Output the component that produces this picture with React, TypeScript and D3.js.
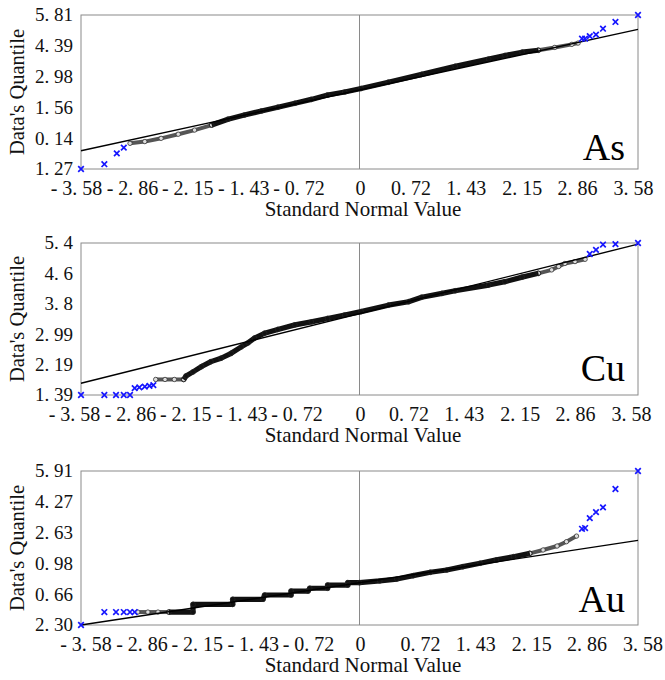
import * as d3 from "d3";

const W = 665;
const H = 680;
const LEFT = 81;
const RIGHT = 638;
const FONT = "Liberation Serif, Times New Roman, Times, DejaVu Serif, serif";
const BOX = "#8a8a8a";
const BLUE = "#1616ff";

// shared x axis
const xTicks = [-3.58, -2.86, -2.15, -1.43, -0.72, 0, 0.72, 1.43, 2.15, 2.86, 3.58];
const xTickLabels = ["- 3. 58", "- 2. 86", "- 2. 15", "- 1. 43", "- 0. 72", "0", "0. 72", "1. 43", "2. 15", "2. 86", "3. 58"];

type Pt = [number, number];

// As
const asYTicks = [-1.27, 0.14, 1.56, 2.98, 4.39, 5.81];
const asYLabels = ["1. 27", "0. 14", "1. 56", "2. 98", "4. 39", "5. 81"];
const asFit: Pt[] = [[-3.58, -0.43], [3.58, 5.15]];
const asSparseLow: Pt[] = [[-2.95, -0.09], [-2.76, -0.01], [-2.55, 0.14], [-2.33, 0.33], [-2.12, 0.52], [-1.9, 0.75]];
const asDense: Pt[] = [
  [-1.9, 0.75], [-1.69, 1.02], [-1.48, 1.21], [-1.26, 1.4], [-1.05, 1.57], [-0.83, 1.75],
  [-0.62, 1.93], [-0.41, 2.13], [-0.19, 2.27], [0.02, 2.43], [0.37, 2.72], [0.8, 3.08],
  [1.23, 3.45], [1.66, 3.78], [1.87, 3.95], [2.09, 4.1], [2.3, 4.19],
];
const asSparseHigh: Pt[] = [[2.3, 4.19], [2.51, 4.32], [2.73, 4.46], [2.81, 4.52]];
const asOutliers: Pt[] = [
  [-3.58, -1.27], [-3.28, -1.05], [-3.12, -0.55], [-3.03, -0.29],
  [2.86, 4.72], [2.9, 4.72], [2.96, 4.84], [3.04, 4.91], [3.13, 5.18], [3.29, 5.49], [3.58, 5.81],
];

// Cu
const cuYTicks = [1.39, 2.19, 2.99, 3.8, 4.6, 5.4];
const cuYLabels = ["1. 39", "2. 19", "2. 99", "3. 8", "4. 6", "5. 4"];
const cuFit: Pt[] = [[-3.58, 1.7], [3.58, 5.37]];
const cuSparseLow: Pt[] = [[-2.62, 1.8], [-2.5, 1.8], [-2.38, 1.8], [-2.26, 1.8]];
const cuDense: Pt[] = [
  [-2.26, 1.8], [-2.23, 1.89], [-2.14, 2.0], [-2.03, 2.14], [-1.91, 2.27], [-1.78, 2.36],
  [-1.65, 2.49], [-1.52, 2.66], [-1.43, 2.77], [-1.35, 2.89], [-1.22, 3.02], [-1.05, 3.12],
  [-0.83, 3.24], [-0.62, 3.32], [-0.41, 3.41], [-0.19, 3.5], [0.02, 3.59], [0.37, 3.76],
  [0.63, 3.85], [0.8, 3.97], [1.06, 4.07], [1.23, 4.14], [1.66, 4.29], [1.87, 4.38],
  [2.09, 4.5], [2.3, 4.6],
];
const cuSparseHigh: Pt[] = [[2.3, 4.6], [2.47, 4.69], [2.56, 4.78], [2.64, 4.86], [2.77, 4.91], [2.9, 4.97]];
const cuOutliers: Pt[] = [
  [-3.58, 1.39], [-3.28, 1.39], [-3.13, 1.39], [-3.03, 1.39], [-2.95, 1.39],
  [-2.89, 1.57], [-2.83, 1.59], [-2.76, 1.61], [-2.7, 1.63], [-2.65, 1.65],
  [2.96, 5.11], [3.04, 5.22], [3.13, 5.36], [3.29, 5.37], [3.58, 5.4],
];

// Au
const auYTicks = [-2.3, -0.66, 0.98, 2.63, 4.27, 5.91];
const auYLabels = ["2. 30", "0. 66", "0. 98", "2. 63", "4. 27", "5. 91"];
const auFit: Pt[] = [[-3.58, -2.3], [3.58, 2.21]];
const auSparseLow: Pt[] = [[-2.85, -1.61], [-2.72, -1.61], [-2.59, -1.61], [-2.45, -1.61]];
const auDense: Pt[] = [
  [-2.45, -1.61], [-2.14, -1.61], [-2.14, -1.2], [-1.63, -1.2], [-1.63, -0.93], [-1.24, -0.93],
  [-1.22, -0.7], [-0.88, -0.7], [-0.88, -0.49], [-0.66, -0.49], [-0.64, -0.34], [-0.41, -0.34],
  [-0.41, -0.17], [-0.15, -0.17], [-0.15, -0.04], [0.0, -0.04], [0.26, 0.05], [0.48, 0.15],
  [0.69, 0.33], [0.91, 0.51], [1.12, 0.63], [1.33, 0.81], [1.55, 0.99], [1.76, 1.17],
  [1.98, 1.34], [2.19, 1.52],
];
const auSparseHigh: Pt[] = [[2.19, 1.52], [2.36, 1.7], [2.54, 1.91], [2.66, 2.14], [2.79, 2.44]];
const auOutliers: Pt[] = [
  [-3.58, -2.3], [-3.28, -1.61], [-3.13, -1.61], [-3.03, -1.61], [-2.95, -1.61], [-2.89, -1.61],
  [2.86, 2.83], [2.9, 2.87], [2.96, 3.4], [3.04, 3.72], [3.13, 3.97], [3.29, 4.95], [3.58, 5.91],
];

interface PanelSpec {
  name: string;
  top: number;
  height: number;
  yTicks: number[];
  yLabels: string[];
  fit: Pt[];
  sparse: Pt[][];
  dense: Pt[];
  outliers: Pt[];
  labelDx: number;
  nameY: number;
}

const PANELS: PanelSpec[] = [
  { name: "As", top: 15, height: 154, yTicks: asYTicks, yLabels: asYLabels, fit: asFit,
    sparse: [asSparseLow, asSparseHigh], dense: asDense, outliers: asOutliers, labelDx: -4.5, nameY: 145 },
  { name: "Cu", top: 243, height: 152, yTicks: cuYTicks, yLabels: cuYLabels, fit: cuFit,
    sparse: [cuSparseLow, cuSparseHigh], dense: cuDense, outliers: cuOutliers, labelDx: -6.5, nameY: 138 },
  { name: "Au", top: 471, height: 154, yTicks: auYTicks, yLabels: auYLabels, fit: auFit,
    sparse: [auSparseLow, auSparseHigh], dense: auDense, outliers: auOutliers, labelDx: 5, nameY: 141 },
];

const xScale = d3.scaleLinear().domain([-3.58, 3.58]).range([LEFT, RIGHT]);
const cross = d3.symbol().type(d3.symbolTimes).size(22)() ?? "";
const txt = { fontFamily: FONT };

function Panel({ p }: { p: PanelSpec }) {
  const bottom = p.top + p.height;
  const y = d3.scaleLinear()
    .domain([p.yTicks[0], p.yTicks[p.yTicks.length - 1]])
    .range([bottom, p.top]);
  const line = d3.line<Pt>().x(d => xScale(d[0])).y(d => y(d[1]));
  const midY = p.top + p.height / 2;

  return (
    <g>
      <rect x={LEFT} y={p.top} width={RIGHT - LEFT} height={p.height} fill="none" stroke={BOX} strokeWidth={1} />
      <line x1={xScale(0)} x2={xScale(0)} y1={p.top} y2={bottom} stroke={BOX} strokeWidth={1} />

      {/* sparse tails: open circles */}
      {p.sparse.map((s, i) => (
        <g key={"s" + i}>
          <path d={line(s) ?? ""} fill="none" stroke="#555" strokeWidth={4} />
          {s.map((d, j) => (
            <circle key={j} cx={xScale(d[0])} cy={y(d[1])} r={2.2} fill="#ddd" stroke="#333" strokeWidth={0.8} />
          ))}
        </g>
      ))}

      {/* dense body */}
      <path d={line(p.dense) ?? ""} fill="none" stroke="#111" strokeWidth={5.2} strokeLinejoin="round" />
      {p.dense.map((d, j) => (
        <circle key={j} cx={xScale(d[0])} cy={y(d[1])} r={2.4} fill="none" stroke="#222" strokeWidth={0.8} />
      ))}

      {/* reference line */}
      <path d={line(p.fit) ?? ""} fill="none" stroke="#000" strokeWidth={1.4} />

      {p.outliers.map((d, j) => (
        <path key={j} d={cross} transform={`translate(${xScale(d[0])},${y(d[1])})`}
          fill="none" stroke={BLUE} strokeWidth={1.7} />
      ))}

      {p.yTicks.map((v, i) => (
        <text key={i} x={73} y={y(v)} dy="0.34em" textAnchor="end" fontSize={19} style={txt} fill="#111">
          {p.yLabels[i]}
        </text>
      ))}
      {xTicks.map((v, i) => (
        <text key={i} x={xScale(v) + (v === 0 ? 1 : p.labelDx)} y={bottom + 19} dy="0.34em" textAnchor="middle"
          fontSize={20} style={txt} fill="#111">
          {xTickLabels[i]}
        </text>
      ))}

      <text x={363} y={bottom + 40} dy="0.34em" textAnchor="middle" fontSize={21} style={txt} fill="#111">
        Standard Normal Value
      </text>
      <text transform={`translate(17,${midY}) rotate(-90)`} dy="0.34em" textAnchor="middle" fontSize={20.5}
        style={txt} fill="#111">
        Data's Quantile
      </text>
      <text x={625} y={p.top + p.nameY} textAnchor="end" fontSize={38} style={txt} fill="#000">
        {p.name}
      </text>
    </g>
  );
}

export default function App() {
  return (
    <svg width={W} height={H} viewBox={`0 0 ${W} ${H}`}
      style={{ position: "absolute", left: 0, top: 0, background: "#fff" }}>
      {PANELS.map(p => <Panel key={p.name} p={p} />)}
    </svg>
  );
}
